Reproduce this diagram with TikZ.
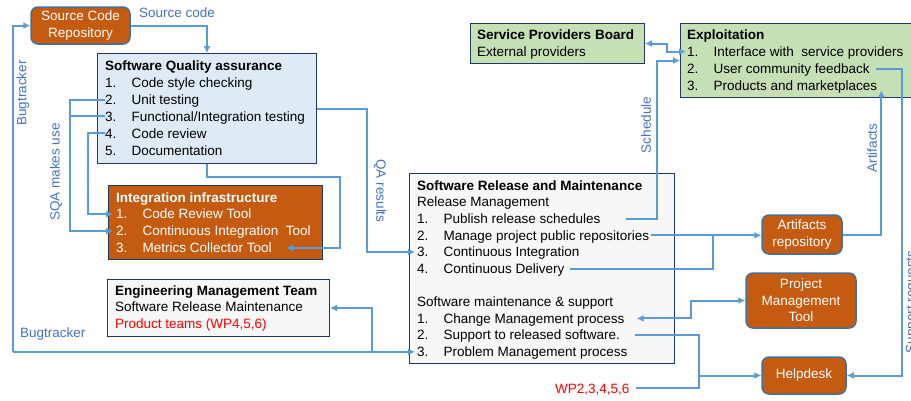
\documentclass[tikz,border=0pt]{standalone}
\usepackage{fontspec}
\setmainfont{Liberation Sans}
\usetikzlibrary{positioning,arrows.meta}
\definecolor{navy}{HTML}{203864}
\definecolor{sqafill}{HTML}{DEEBF7}
\definecolor{greenfill}{HTML}{C5E0B4}
\definecolor{greyfill}{HTML}{F7F7F7}
\definecolor{toolfill}{HTML}{C55A11}
\definecolor{toolline}{HTML}{41719C}
\definecolor{connblue}{HTML}{5B9BD5}
\definecolor{lblblue}{HTML}{4472C4}

\begin{document}
\begin{tikzpicture}[
      x=1pt, y=-1pt, font=\fontsize{13.5}{16.5}\selectfont,
      >={Latex[length=7pt,width=7pt]},
      box/.style={draw=navy, line width=1pt, anchor=north west, inner sep=0pt},
      tool/.style={draw=toolline, fill=toolfill, line width=1.5pt, rounded corners=7pt, text=white, align=center, inner sep=0pt},
      entry/.style={inner sep=0pt, text height=9.5pt, text depth=0pt, anchor=base west},
      title/.style={entry, font=\fontsize{13.5}{16.5}\selectfont\bfseries},
      conn/.style={draw=connblue, line width=2pt},
      lbl/.style={text=lblblue, inner sep=0pt}
      ]

      \useasboundingbox (0,0) rectangle (911,400);

      % Boites
      \node[box, fill=sqafill, minimum width=219pt, minimum height=110pt] (sqa) at (97,53) {};
      \node[box, fill=toolfill, minimum width=214pt, minimum height=74pt] (int) at (108,185) {};
      \node[box, fill=greyfill, minimum width=222pt, minimum height=57pt] (emt) at (107,279) {};
      \node[box, fill=greyfill, minimum width=265pt, minimum height=190pt] (srm) at (409,173) {};
      \node[box, fill=greenfill, minimum width=174pt, minimum height=40pt] (spb) at (470,23) {};
      \node[box, fill=greenfill, minimum width=240pt, minimum height=74pt] (expl) at (680,23) {};

      \node[tool, minimum width=99pt, minimum height=37pt] (scr) at (80.5,25.5) {Source Code\\Repository};
      \node[tool, minimum width=80pt, minimum height=39pt] (art) at (802,234.5) {Artifacts\\repository};
      \node[tool, minimum width=110pt, minimum height=55pt] (pmt) at (801,300.5) {Project\\Management\\Tool};
      \node[tool, minimum width=84pt, minimum height=37pt] (help) at (804,375.5) {Helpdesk};

      % Software Quality assurance
      \node[title] (sqa-t) at (105,70.5) {Software Quality assurance};
      \node[entry, below=7pt of sqa-t.south west, anchor=north west] (sqa1n) {1.};
      \node[entry, below=7pt of sqa1n] (sqa2n) {2.};
      \node[entry, below=7pt of sqa2n] (sqa3n) {3.};
      \node[entry, below=7pt of sqa3n] (sqa4n) {4.};
      \node[entry, below=7pt of sqa4n] (sqa5n) {5.};
      \node[entry, right=14.7pt of sqa1n] (sqa1) {Code style checking};
      \node[entry, right=14.7pt of sqa2n] (sqa2) {Unit testing};
      \node[entry, right=14.7pt of sqa3n] (sqa3) {Functional/Integration testing};
      \node[entry, right=14.7pt of sqa4n] (sqa4) {Code review};
      \node[entry, right=14.7pt of sqa5n] (sqa5) {Documentation};

      % Integration infrastructure
      \node[title, text=white] (int-t) at (116,202) {Integration infrastructure};
      \node[entry, text=white, below=7pt of int-t.south west, anchor=north west] (int1n) {1.};
      \node[entry, text=white, below=7pt of int1n] (int2n) {2.};
      \node[entry, text=white, below=7pt of int2n] (int3n) {3.};
      \node[entry, text=white, right=14.7pt of int1n] (int1) {Code Review Tool};
      \node[entry, text=white, right=14.7pt of int2n] (int2) {Continuous Integration\ \ Tool};
      \node[entry, text=white, right=14.7pt of int3n] (int3) {Metrics Collector Tool};

      % Engineering Management Team
      \node[title] (emt-t) at (115,295) {Engineering Management Team};
      \node[entry, below=7pt of emt-t.south west, anchor=north west] (emt-srm) {Software Release Maintenance};
      \node[entry, text=red, below=7pt of emt-srm.south west, anchor=north west] (emt-pt) {Product teams (WP4,5,6)};

      % Software Release and Maintenance
      \node[title] (srm-t) at (417,190) {Software Release and Maintenance};
      \node[entry, below=6.8pt of srm-t.south west, anchor=north west] (srm-rm) {Release Management};
      \node[entry, below=6.8pt of srm-rm.south west, anchor=north west] (srm1n) {1.};
      \node[entry, below=6.8pt of srm1n] (srm2n) {2.};
      \node[entry, below=6.8pt of srm2n] (srm3n) {3.};
      \node[entry, below=6.8pt of srm3n] (srm4n) {4.};
      \node[entry, right=14.7pt of srm1n] (srm1) {Publish release schedules};
      \node[entry, right=14.7pt of srm2n] (srm2) {Manage project public repositories};
      \node[entry, right=14.7pt of srm3n] (srm3) {Continuous Integration};
      \node[entry, right=14.7pt of srm4n] (srm4) {Continuous Delivery};
      \node[entry, below=23.1pt of srm4n.south west, anchor=north west] (srm-ms) {Software maintenance \& support};
      \node[entry, below=6.8pt of srm-ms.south west, anchor=north west] (srm-m1n) {1.};
      \node[entry, below=6.8pt of srm-m1n] (srm-m2n) {2.};
      \node[entry, below=6.8pt of srm-m2n] (srm-m3n) {3.};
      \node[entry, right=14.7pt of srm-m1n] (srm-m1) {Change Management process};
      \node[entry, right=14.7pt of srm-m2n] (srm-m2) {Support to released software.};
      \node[entry, right=14.7pt of srm-m3n] (srm-m3) {Problem Management process};

      % Service Providers Board et Exploitation
      \node[title] (spb-t) at (477,39.5) {Service Providers Board};
      \node[entry, below=7pt of spb-t.south west, anchor=north west] (spb-ext) {External providers};
      \node[title] (expl-t) at (687,39.5) {Exploitation};
      \node[entry, below=7pt of expl-t.south west, anchor=north west] (expl1n) {1.};
      \node[entry, below=7pt of expl1n] (expl2n) {2.};
      \node[entry, below=7pt of expl2n] (expl3n) {3.};
      \node[entry, right=14.7pt of expl1n] (expl1) {Interface with\ \ service providers};
      \node[entry, right=14.7pt of expl2n] (expl2) {User community feedback};
      \node[entry, right=14.7pt of expl3n] (expl3) {Products and marketplaces};

      \node[entry, text=red] (wp) at (555,393) {WP2,3,4,5,6};

      % Etiquettes des liens
      \node[lbl, anchor=base west] (lbl-src) at (139,17) {Source code};
      \node[lbl, rotate=90] (lbl-bug) at (23,93) {Bugtracker};
      \node[lbl, anchor=base west] (lbl-bug2) at (20,337) {Bugtracker};
      \node[lbl, rotate=90] (lbl-sqa) at (56,172) {SQA makes use};
      \node[lbl, rotate=-90] (lbl-qa) at (380,191) {QA results};
      \node[lbl, rotate=90] (lbl-sched) at (646,125) {Schedule};
      \node[lbl, rotate=90] (lbl-art) at (872,148) {Artifacts};
      \node[lbl, rotate=90] (lbl-sup) at (912,302) {Support requests};

      % Liens
      \coordinate (bug-x) at (13,0);
      \coordinate (bus-a) at (70,0);
      \coordinate (bus-b) at (88,0);
      \coordinate (qa-x) at (367,0);
      \coordinate (emt-x) at (372,0);
      \coordinate (metrics-bend) at (340,177);
      \coordinate (sched-x) at (657,0);
      \coordinate (spb-x) at (667,0);
      \coordinate (pmt-x) at (691,0);
      \coordinate (help-x) at (699,0);
      \coordinate (art-x) at (713,0);
      \coordinate (sup-x) at (902,0);
      \coordinate (bug) at (srm-m3n.west -| bug-x);

      \path[conn,->] (scr) -| (sqa);
      \path[conn,->] (bug) |- (scr);
      \path[conn,->,shorten >=2pt] (bug) -- (srm-m3n.west);
      \path[conn,->] (bug -| emt-x) |- (emt);

      \path[conn,->,shorten >=3pt] (sqa2n.west) -| (bus-a |- int2n.west) -- (int2n.west);
      \path[conn] (sqa3n.west) -- (sqa3n.west -| bus-a);
      \path[conn,->,shorten >=3pt] (sqa4n.west) -| (bus-b |- int1n.west) -- (int1n.west);
      \path[conn,->] (sqa) |- (metrics-bend) |- ([xshift=14pt]int3.east);
      \path[conn,->,shorten >=2pt] (sqa) -| (qa-x |- srm3n.west) -- (srm3n.west);

      \path[conn,->] ([xshift=25pt]srm1.east) -| (sched-x |- expl.west) -- (expl.west);
      \path[conn,<->,shorten >=1pt] (spb) -| (spb-x |- expl1n.west) -- (expl1n.west);
      \path[conn,->] (art) -| ([xshift=4pt]expl3.south east);
      \path[conn,->] ([xshift=6pt]expl2.east) -| (sup-x |- help.east) -- (help.east);

      \path[conn,->] ([xshift=2pt]srm2.east) -- (srm2.east -| art.west);
      \path[conn] ([xshift=5pt]srm4.east) -| (art-x |- srm2.east);
      \path[conn,<->] ([xshift=12pt]srm-m1.east) -| (pmt-x |- pmt.west) -- (pmt.west);
      \path[conn,->] ([xshift=15pt]srm-m2.east) -| (help-x |- help.west) -- (help.west);
      \path[conn] ([xshift=6pt]wp.east) -| (help-x |- help.west);
    \end{tikzpicture}
\end{document}
